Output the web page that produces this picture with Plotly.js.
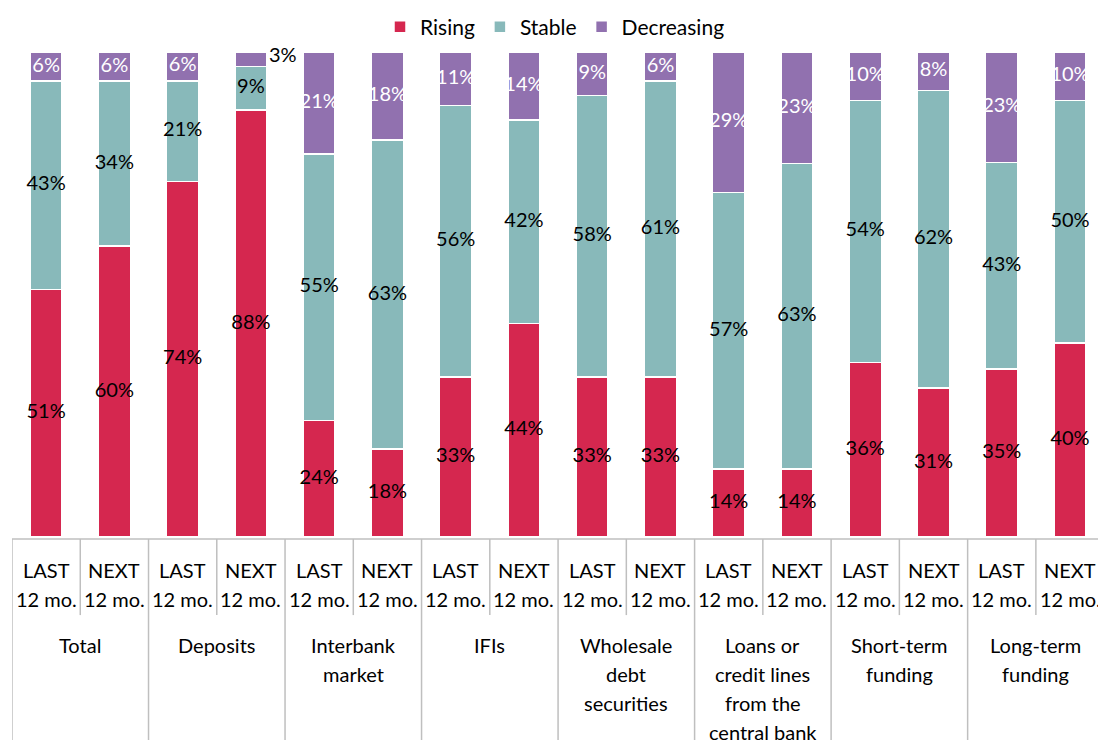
<!DOCTYPE html>
<html>
<head>
<meta charset="utf-8">
<script src="https://cdn.plot.ly/plotly-3.0.1.min.js"></script>
<style>html,body{margin:0;padding:0;background:#fff;}#chart{width:1098px;height:740px;}</style>
</head>
<body>
<div id="chart"></div>
<script>
const groups = ['Total','Deposits','Interbank<br>market','IFIs','Wholesale<br>debt<br>securities','Loans or<br>credit lines<br>from the<br>central bank','Short-term<br>funding','Long-term<br>funding'];
const periods = ['LAST<br>12 mo.','NEXT<br>12 mo.'];
const rising     = [51,60,74,88,24,18,33,44,33,33,14,14,36,31,35,40];
const stable     = [43,34,21, 9,55,63,56,42,58,61,57,63,54,62,43,50];
const decreasing = [ 6, 6, 6, 3,21,18,11,14, 9, 6,29,23,10, 8,23,10];
const seriesNames = ['Rising','Stable','Decreasing'];
const colors = ['#D5274F','#88B9BA','#9171AF'];

const FONT = 'Lato, "Noto Sans", sans-serif';
const FS = 20;
const x = rising.map((_, i) => i);
const series = [rising, stable, decreasing];
const totals = x.map(i => rising[i] + stable[i] + decreasing[i]);
const norm = series.map(s => s.map((v, i) => v / totals[i] * 100));

const data = [];
series.forEach((s, k) => {
  data.push({
    type: 'bar', x: x, y: s, name: seriesNames[k],
    marker: {color: colors[k], line: {color: '#ffffff', width: 1.5}},
    width: 0.47, hoverinfo: 'skip'
  });
});
// labels
const labelColors = ['#000000','#000000','#ffffff'];
const annotations = [];
series.forEach((s, k) => {
  const ys = x.map(i => {
    let b = 0; for (let j = 0; j < k; j++) b += norm[j][i];
    return b + norm[k][i] / 2;
  });
  const txt = s.map((v, i) => (norm[k][i] < 5 ? '' : v + '%'));
  data.push({
    type: 'scatter', mode: 'text', x: x, y: ys, text: txt,
    textposition: 'middle center',
    textfont: {family: FONT, size: FS, color: labelColors[k]},
    showlegend: false, hoverinfo: 'skip', cliponaxis: false
  });
  s.forEach((v, i) => {
    if (norm[k][i] < 5) {
      annotations.push({
        xref: 'x', yref: 'y', x: i + 0.235, y: ys[i] + 1, xanchor: 'left', yanchor: 'middle',
        text: v + '%', showarrow: false, font: {family: FONT, size: FS, color: '#000'}
      });
    }
  });
});

// category labels, one annotation per line for Excel-like line spacing
const LINE = 29;
function addLines(text, xv, firstCenter) {
  text.split('<br>').forEach((ln, li) => {
    annotations.push({
      xref: 'x', yref: 'paper', x: xv, y: 0, yanchor: 'middle', yshift: -(firstCenter + li * LINE),
      text: ln, showarrow: false, align: 'center',
      font: {family: FONT, size: FS, color: '#000'}
    });
  });
}
x.forEach(i => addLines(periods[i % 2], i, 33));
groups.forEach((g, gi) => addLines(g, gi * 2 + 0.5, 108));

const shapes = [];
const lineC = '#BFBFBF';
for (let k = 0; k <= x.length; k++) {
  const full = k % 2 === 0;
  shapes.push({
    type: 'line', xref: 'x', yref: 'paper', x0: k - 0.5, x1: k - 0.5,
    y0: -0.004, y1: full ? -0.45 : -0.161,
    line: {color: lineC, width: 1.5}
  });
}
shapes.push({type: 'line', xref: 'x', yref: 'paper', x0: -0.5, x1: x.length - 0.5, y0: -0.004, y1: -0.004,
  line: {color: lineC, width: 1.5}});

const layout = {
  width: 1098, height: 740,
  margin: {l: 12, r: 0, t: 52, b: 203},
  barmode: 'stack', barnorm: 'percent',
  paper_bgcolor: '#fff', plot_bgcolor: '#fff',
  font: {family: FONT, size: FS, color: '#000'},
  xaxis: {range: [-0.5, 15.41], showticklabels: false, showgrid: false, zeroline: false, showline: false, ticks: ''},
  yaxis: {range: [0, 100], visible: false, showgrid: false, zeroline: false},
  legend: {orientation: 'h', x: 0.5, xanchor: 'center', y: 0.991, yanchor: 'top', yref: 'container',
    font: {family: FONT, size: 21, color: '#000'}, traceorder: 'normal', itemwidth: 30},
  showlegend: true,
  shapes: shapes, annotations: annotations
};
Plotly.newPlot('chart', data, layout, {staticPlot: true, displayModeBar: false});
</script>
</body>
</html>
